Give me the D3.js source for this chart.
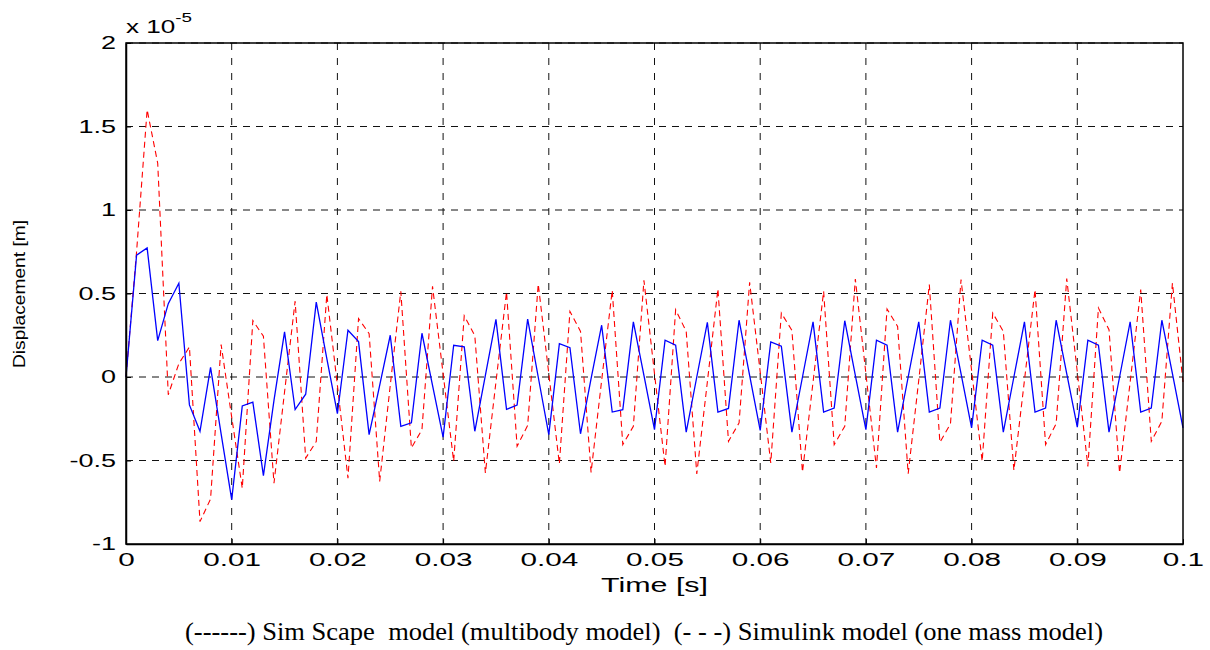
<!DOCTYPE html>
<html>
<head>
<meta charset="utf-8">
<script src="https://cdn.jsdelivr.net/npm/d3@7"></script>
<style>
  body { margin: 0; background: #fff; }
  svg { display: block; }
</style>
</head>
<body>
<div id="chart"></div>
<script>
// sample times [s]
const timeS = [
  0.000, 0.001, 0.002, 0.003, 0.004, 0.005, 0.006, 0.007, 0.008, 0.009,
  0.010, 0.011, 0.012, 0.013, 0.014, 0.015, 0.016, 0.017, 0.018, 0.019,
  0.020, 0.021, 0.022, 0.023, 0.024, 0.025, 0.026, 0.027, 0.028, 0.029,
  0.030, 0.031, 0.032, 0.033, 0.034, 0.035, 0.036, 0.037, 0.038, 0.039,
  0.040, 0.041, 0.042, 0.043, 0.044, 0.045, 0.046, 0.047, 0.048, 0.049,
  0.050, 0.051, 0.052, 0.053, 0.054, 0.055, 0.056, 0.057, 0.058, 0.059,
  0.060, 0.061, 0.062, 0.063, 0.064, 0.065, 0.066, 0.067, 0.068, 0.069,
  0.070, 0.071, 0.072, 0.073, 0.074, 0.075, 0.076, 0.077, 0.078, 0.079,
  0.080, 0.081, 0.082, 0.083, 0.084, 0.085, 0.086, 0.087, 0.088, 0.089,
  0.090, 0.091, 0.092, 0.093, 0.094, 0.095, 0.096, 0.097, 0.098, 0.099,
  0.100
];

// displacement, in units of 1e-5 m
const simscape = [
  0, 0.73, 0.773, 0.218, 0.439, 0.561, -0.167, -0.325, 0.058, -0.34,
  -0.734, -0.173, -0.150, -0.591, -0.14, 0.27, -0.195, -0.103, 0.448, 0.11,
  -0.22, 0.28, 0.212, -0.345, -0.05, 0.25, -0.295, -0.274, 0.262, -0.05,
  -0.36, 0.19, 0.18, -0.325, 0.01, 0.345, -0.194, -0.168, 0.347, 0.0,
  -0.345, 0.2, 0.176, -0.34, -0.01, 0.31, -0.21, -0.196, 0.33, 0.01,
  -0.315, 0.22, 0.19, -0.33, 0.0, 0.327, -0.21, -0.188, 0.34, 0.01,
  -0.32, 0.21, 0.184, -0.33, 0.0, 0.33, -0.21, -0.186, 0.337, 0.01,
  -0.315, 0.22, 0.19, -0.33, 0.0, 0.33, -0.21, -0.186, 0.34, 0.02,
  -0.305, 0.22, 0.19, -0.33, 0.0, 0.33, -0.21, -0.186, 0.34, 0.02,
  -0.30, 0.22, 0.19, -0.33, 0.0, 0.33, -0.21, -0.186, 0.34, 0.02,
  -0.305
];

const simulink = [
  0, 0.75, 1.60, 1.28, -0.106, 0.08, 0.18, -0.866, -0.73, 0.194,
  -0.24, -0.666, 0.338, 0.244, -0.636, -0.09, 0.454, -0.486, -0.386, 0.494,
  -0.05, -0.606, 0.35, 0.26, -0.625, -0.05, 0.513, -0.425, -0.315, 0.543,
  0.02, -0.505, 0.367, 0.247, -0.575, -0.03, 0.509, -0.415, -0.29, 0.557,
  0.02, -0.52, 0.393, 0.273, -0.571, -0.02, 0.519, -0.405, -0.295, 0.579,
  0.02, -0.535, 0.403, 0.273, -0.58, -0.03, 0.527, -0.385, -0.275, 0.567,
  0.03, -0.515, 0.383, 0.279, -0.569, -0.03, 0.513, -0.405, -0.295, 0.587,
  0.02, -0.545, 0.407, 0.303, -0.579, -0.02, 0.553, -0.391, -0.281, 0.583,
  0.04, -0.505, 0.383, 0.273, -0.559, -0.02, 0.523, -0.405, -0.279, 0.589,
  0.03, -0.535, 0.413, 0.283, -0.575, -0.03, 0.523, -0.385, -0.265, 0.563,
  -0.03
];

const xTicks = [0, 0.01, 0.02, 0.03, 0.04, 0.05, 0.06, 0.07, 0.08, 0.09, 0.1];
const xTickLabels = ["0", "0.01", "0.02", "0.03", "0.04", "0.05", "0.06", "0.07", "0.08", "0.09", "0.1"];
const yTicks = [-1, -0.5, 0, 0.5, 1, 1.5, 2];
const yTickLabels = ["-1", "-0.5", "0", "0.5", "1", "1.5", "2"];

const width = 1210, height = 650;
const plot = {left: 126, right: 1183, top: 43, bottom: 544};
const tickFont = "Liberation Sans, Arial, sans-serif";
const captionFont = "Liberation Serif, Times New Roman, DejaVu Serif, serif";

const svg = d3.select("#chart")
    .append("svg")
    .attr("width", width)
    .attr("height", height);

svg.append("rect").attr("width", width).attr("height", height).attr("fill", "#fff");

const x = d3.scaleLinear().domain([0, 0.1]).range([plot.left, plot.right]);
const y = d3.scaleLinear().domain([-1, 2]).range([plot.bottom, plot.top]);

// grid
svg.append("g").selectAll("line")
    .data(xTicks.slice(1, -1))
    .join("line")
    .attr("x1", d => x(d)).attr("x2", d => x(d))
    .attr("y1", plot.top).attr("y2", plot.bottom)
    .attr("stroke", "#111").attr("stroke-width", 1)
    .attr("stroke-dasharray", "7,8");

svg.append("g").selectAll("line")
    .data(yTicks.slice(1))
    .join("line")
    .attr("x1", plot.left).attr("x2", plot.right)
    .attr("y1", d => y(d)).attr("y2", d => y(d))
    .attr("stroke", "#111").attr("stroke-width", 1)
    .attr("stroke-dasharray", "7,6");

// data lines
const line = (vals) => d3.line()
    .x((d, i) => x(timeS[i]))
    .y(d => y(d))(vals);

svg.append("path")
    .attr("d", line(simulink))
    .attr("fill", "none")
    .attr("stroke", "#ff0000")
    .attr("stroke-width", 1.1)
    .attr("stroke-dasharray", "6,4");

svg.append("path")
    .attr("d", line(simscape))
    .attr("fill", "none")
    .attr("stroke", "#0000ff")
    .attr("stroke-width", 1.3);

// frame
svg.append("rect")
    .attr("x", plot.left).attr("y", plot.top)
    .attr("width", plot.right - plot.left).attr("height", plot.bottom - plot.top)
    .attr("fill", "none").attr("stroke", "#000").attr("stroke-width", 1.5);

// axes
const xAxis = svg.append("g")
    .attr("transform", `translate(0,${plot.bottom})`)
    .call(d3.axisBottom(x)
        .tickValues(xTicks)
        .tickFormat((d, i) => xTickLabels[i])
        .tickSizeInner(-5).tickSizeOuter(0).tickPadding(9));

xAxis.attr("font-family", tickFont).attr("font-size", 18);
xAxis.select(".domain").attr("stroke", "#000").attr("stroke-width", 1.5);
xAxis.selectAll("text")
    .attr("fill", "#000")
    .attr("transform", "scale(1.65,1)");

const yAxis = svg.append("g")
    .attr("transform", `translate(${plot.left},0)`)
    .call(d3.axisLeft(y)
        .tickValues(yTicks)
        .tickFormat((d, i) => yTickLabels[i])
        .tickSizeInner(-5).tickSizeOuter(0).tickPadding(0));

yAxis.attr("font-family", tickFont).attr("font-size", 18);
yAxis.select(".domain").attr("stroke", "#000").attr("stroke-width", 1.5);
yAxis.selectAll("text")
    .attr("fill", "#000")
    .attr("x", -10 / 1.5)
    .attr("transform", "scale(1.5,1)");

// exponent label
const expo = svg.append("text")
    .attr("transform", `translate(${plot.left},33) scale(1.45,1)`)
    .attr("font-family", tickFont).attr("font-size", 18);
expo.append("tspan").text("x 10");
expo.append("tspan").attr("dy", -11).attr("font-size", 13).text("-5");

// axis titles
svg.append("text")
    .attr("transform", `translate(${(plot.left + plot.right) / 2},592) scale(1.45,1)`)
    .attr("text-anchor", "middle")
    .attr("font-family", tickFont).attr("font-size", 21)
    .text("Time [s]");

svg.append("text")
    .attr("transform", "translate(25,294) rotate(-90)")
    .attr("text-anchor", "middle")
    .attr("textLength", 148).attr("lengthAdjust", "spacingAndGlyphs")
    .attr("font-family", tickFont).attr("font-size", 17)
    .text("Displacement [m]");

// caption legend
svg.append("text")
    .attr("x", 185).attr("y", 640)
    .attr("textLength", 918).attr("lengthAdjust", "spacingAndGlyphs")
    .attr("font-family", captionFont)
    .attr("font-size", 25)
    .attr("xml:space", "preserve")
    .text("(------) Sim Scape  model (multibody model)  (- - -) Simulink model (one mass model)");
</script>
</body>
</html>
